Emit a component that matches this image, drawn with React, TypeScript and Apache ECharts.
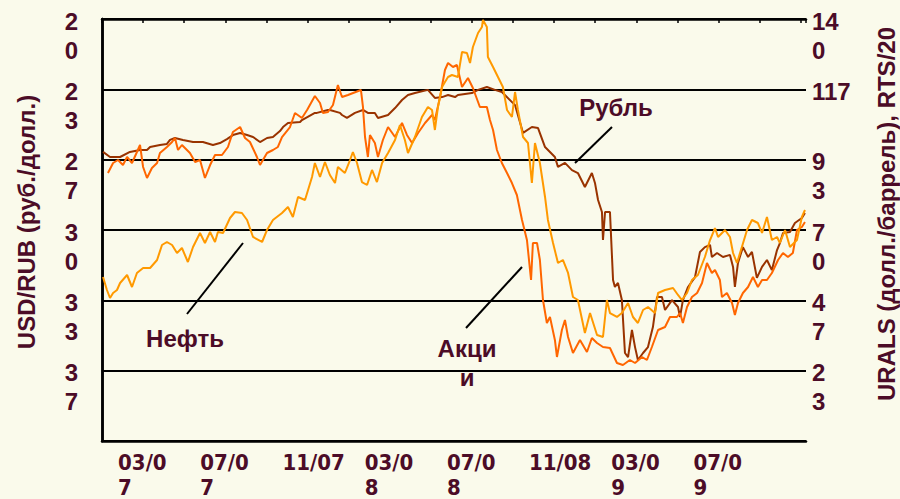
import React, { useEffect, useRef } from "react";
import * as echarts from "echarts";

// x values are months since 1 Jan 2007
const rubleX = [0.05,0.39,0.88,1.36,1.85,2.19,2.34,2.82,3.16,3.31,3.55,3.94,4.43,4.91,5.40,5.74,6.08,6.37,6.72,7.06,7.35,7.69,8.03,8.32,8.66,8.81,9.05,9.64,9.73,10.36,10.46,10.99,11.09,11.58,11.68,11.92,12.31,12.70,12.94,13.28,13.43,13.92,14.26,14.60,14.89,15.23,15.86,16.20,16.55,16.84,17.18,17.32,18.00,18.30,18.73,19.12,19.46,20.10,20.49,20.92,21.22,21.56,22.04,22.19,22.53,22.87,23.16,23.50,23.84,23.99,24.14,24.33,24.38,24.48,24.72,24.87,24.96,25.11,25.30,25.45,25.60,25.79,25.94,26.08,26.33,26.57,26.81,27.01,27.25,27.40,27.74,28.03,28.13,28.27,28.52,28.86,29.10,29.34,29.59,29.68,29.93,30.22,30.56,30.71,30.80,30.95,31.19,31.44,31.63,31.87,32.12,32.36,32.60,32.85,32.99,33.14,33.48,33.72,34.06,34.21];
const rubleY = [26.30,26.54,26.54,26.30,26.21,26.21,26.07,25.97,25.92,25.73,25.64,25.73,25.83,25.83,25.97,25.88,25.69,25.50,25.40,25.50,25.59,25.83,25.64,25.59,25.31,25.12,24.93,24.88,24.79,24.45,24.45,24.31,24.31,24.45,24.55,24.69,24.45,24.31,24.45,24.45,24.69,24.55,24.22,23.84,23.60,23.51,23.36,23.74,23.70,23.60,23.70,23.60,23.51,23.36,23.22,23.36,23.46,24.08,25.40,25.12,25.17,26.07,26.54,27.01,26.82,27.16,27.30,27.96,27.30,27.77,28.58,29.15,30.47,29.15,29.15,32.37,32.70,32.51,33.32,35.83,36.02,34.74,35.55,36.16,35.83,35.55,34.60,33.18,33.18,33.79,33.32,33.65,34.12,33.32,32.70,32.23,31.04,30.81,30.71,31.28,31.09,31.28,31.18,31.75,32.70,31.56,30.81,31.28,31.04,32.27,31.75,31.42,31.90,30.95,30.62,30.14,30.09,29.67,29.43,29.19];

const stocksX = [0.29,0.54,0.78,1.02,1.22,1.46,1.70,1.85,2.00,2.19,2.43,2.68,2.82,3.16,3.41,3.55,3.70,3.89,4.28,4.53,4.77,5.01,5.26,5.50,5.84,6.13,6.37,6.72,6.96,7.20,7.54,7.69,8.03,8.32,8.56,8.76,9.15,9.39,9.73,9.98,10.36,10.61,10.75,11.00,11.24,11.48,11.68,11.97,12.60,12.70,12.80,12.94,13.04,13.28,13.43,13.67,13.92,14.26,14.60,14.84,15.09,15.38,15.72,16.06,16.20,16.45,16.69,16.84,17.08,17.27,17.52,17.81,18.05,18.39,18.73,18.88,19.03,19.22,19.46,19.71,19.95,20.19,20.44,20.68,20.88,20.97,21.17,21.31,21.46,21.65,21.80,22.04,22.14,22.38,22.53,22.68,22.92,23.26,23.60,23.84,24.09,24.38,24.72,25.06,25.35,25.69,25.94,26.28,26.52,26.76,27.06,27.40,27.64,27.98,28.13,28.27,28.47,28.71,28.96,29.20,29.44,29.68,29.83,30.07,30.17,30.41,30.66,30.80,30.95,31.19,31.44,31.68,31.92,32.12,32.36,32.60,32.90,33.14,33.38,33.62,33.82,34.06,34.21];
const stocksY = [88.91,92.23,93.22,91.56,94.22,92.23,95.88,98.20,90.90,87.25,90.57,92.23,95.55,97.54,99.19,100.52,96.54,98.20,95.55,92.56,93.22,87.25,91.56,94.88,94.88,97.54,102.51,104.17,100.52,99.19,94.22,91.56,95.55,96.54,97.54,100.85,104.17,108.82,107.16,109.81,114.46,112.13,108.82,109.15,111.47,118.10,114.12,114.79,116.45,110.81,100.85,94.22,101.52,98.86,94.22,99.86,104.17,100.85,105.50,101.52,98.86,102.18,105.50,108.15,106.49,114.12,123.08,125.40,124.08,124.74,117.44,120.43,117.11,110.81,110.81,106.49,103.18,96.54,92.23,88.91,85.59,81.61,73.32,66.68,53.41,65.69,65.69,60.05,46.78,39.15,41.14,33.51,27.87,36.82,40.14,34.50,29.19,33.51,29.53,34.17,32.51,31.18,30.85,25.88,25.21,26.87,25.88,27.87,26.87,31.18,36.82,37.82,41.14,41.14,42.46,39.15,44.46,47.77,49.10,52.42,59.05,55.74,56.73,53.41,47.77,49.10,45.78,41.80,45.78,49.10,51.09,54.41,51.09,53.41,53.41,55.74,60.05,62.37,61.04,62.37,70.00,71.00,72.65];

const oilX = [0.05,0.24,0.39,0.54,0.73,0.88,1.22,1.46,1.70,2.00,2.34,2.68,2.92,3.16,3.41,3.65,3.89,4.18,4.43,4.77,5.01,5.26,5.50,5.64,5.89,6.23,6.47,6.81,7.06,7.35,7.79,8.03,8.32,8.76,9.05,9.29,9.54,9.88,10.22,10.36,10.61,10.85,11.09,11.34,11.48,11.82,12.07,12.21,12.41,12.65,12.90,13.14,13.38,13.63,13.92,14.26,14.50,14.74,14.89,15.23,15.57,15.86,16.06,16.20,16.35,16.55,16.69,16.84,17.03,17.32,17.52,17.76,17.91,18.05,18.30,18.49,18.54,18.73,18.78,19.03,19.27,19.51,19.71,19.95,20.10,20.24,20.49,20.73,20.92,21.07,21.31,21.56,21.70,21.95,22.19,22.43,22.68,22.92,23.16,23.50,23.75,24.09,24.38,24.57,24.72,25.06,25.30,25.60,25.84,26.08,26.33,26.57,26.91,27.06,27.40,27.79,28.03,28.22,28.47,28.71,29.00,29.34,29.59,29.83,29.98,30.32,30.56,30.71,30.90,31.14,31.39,31.63,31.92,32.12,32.36,32.60,32.85,32.99,33.24,33.48,33.82,34.06,34.21];
const oilY = [54.41,50.09,47.44,49.10,50.09,52.42,55.07,51.09,55.74,57.39,57.39,60.05,65.02,66.02,65.02,62.37,64.03,59.38,64.36,69.01,65.69,69.34,66.02,69.34,69.01,73.98,75.97,75.64,73.32,67.68,66.02,70.00,73.32,75.64,77.63,74.31,80.95,79.95,87.58,92.23,87.58,92.56,88.25,85.59,90.90,88.91,93.22,95.88,92.23,85.92,84.93,89.91,85.92,92.23,95.55,99.86,104.83,99.86,95.55,100.85,107.49,110.81,109.81,103.18,110.81,117.44,119.10,120.76,121.42,120.76,129.05,128.72,125.40,130.71,135.36,137.35,139.67,137.35,127.39,124.08,120.76,117.44,109.81,107.49,115.78,109.81,100.85,98.86,85.59,98.86,92.23,80.95,73.32,65.69,59.05,60.05,55.74,47.77,46.78,35.83,42.46,35.17,34.50,46.78,42.46,41.14,42.46,45.78,41.14,39.15,43.46,44.46,42.46,49.10,50.09,50.76,48.44,46.78,49.10,53.41,55.07,61.04,66.68,70.66,67.68,70.00,67.68,62.37,59.05,64.36,70.00,73.32,72.32,69.01,74.31,66.68,67.68,65.69,70.00,64.36,66.68,74.31,76.64];

const monthTicks = [2, 6, 10, 14, 18, 22, 26, 30];
const monthTickLabels = ["03/0\n7", "07/0\n7", "11/07", "03/0\n8", "07/0\n8", "11/08", "03/0\n9", "07/0\n9"];
const leftTickLabels = ["2\n0", "2\n3", "2\n7", "3\n0", "3\n3", "3\n7", ""];
const rightTickLabels = ["", "2\n3", "4\n7", "7\n0", "9\n3", "117", "14\n0"];

const seriesNames = ["Рубль", "Акции", "Нефть"];
const leftAxisTitle = "USD/RUB (руб./долл.)";
const rightAxisTitle = "URALS (долл./баррель), RTS/20";

const TEXT = "#4C0C27";
const FONT = "'Liberation Sans', Arial, sans-serif";
const NARROW = "'Liberation Sans Narrow', 'Arial Narrow', 'DejaVu Sans Condensed', sans-serif";
const X_MAX = 34.26;

function yRich(s: string) {
  if (!s) return "";
  return s
    .split("\n")
    .map((l, i) => `{${i === 0 ? "f" : "s"}|${l}}`)
    .join("\n");
}

function xRich(s: string) {
  return s
    .split("\n")
    .map((l, i) => `{${i === 0 ? "x1" : "x2"}|${l}}`)
    .join("\n");
}

const yRichStyles = {
  f: { fontSize: 24, fontWeight: "bold", fontFamily: FONT, color: TEXT, lineHeight: 4 },
  s: { fontSize: 24, fontWeight: "bold", fontFamily: FONT, color: TEXT, lineHeight: 54 },
};

const xTokenBase = {
  width: 50,
  align: "left",
  fontSize: 22,
  fontWeight: "bold",
  fontFamily: NARROW,
  color: TEXT,
};

export default function App() {
  const ref = useRef<HTMLDivElement>(null);

  useEffect(() => {
    if (!ref.current) return;
    const chart = echarts.init(ref.current, undefined, { renderer: "svg" });
    const zip = (xs: number[], ys: number[]) => xs.map((x, i) => [x, ys[i]]);

    const centeredText = (text: string, x: number, y: number, rotation = 0) => ({
      type: "text",
      x,
      y,
      rotation,
      style: {
        text,
        font: `bold 24px ${FONT}`,
        fill: TEXT,
        align: "center",
        verticalAlign: "middle",
        textAlign: "center",
        textVerticalAlign: "middle",
      },
    });

    const option: any = {
      animation: false,
      backgroundColor: "#FAFAEB",
      grid: { left: 102, right: 94, top: 19, bottom: 58, containLabel: false, outerBoundsMode: "none" },
      xAxis: [
        {
          type: "value",
          position: "bottom",
          min: 0,
          max: X_MAX,
          interval: 2,
          axisLine: { show: true, lineStyle: { color: "#000", width: 2.5 } },
          axisTick: { show: false },
          splitLine: { show: false },
          axisLabel: {
            show: true,
            margin: 3,
            showMaxLabel: false,
            showMinLabel: false,
            formatter: (v: number) => {
              const i = monthTicks.findIndex((t) => Math.abs(t - v) < 0.01);
              return i >= 0 ? xRich(monthTickLabels[i]) : "";
            },
            rich: {
              x1: { ...xTokenBase, lineHeight: 36 },
              x2: { ...xTokenBase, lineHeight: 14 },
            },
          },
        },
        {
          type: "value",
          position: "top",
          min: 0,
          max: X_MAX,
          interval: 2,
          axisLine: { show: true, lineStyle: { color: "#000", width: 2.5 } },
          axisTick: { show: true, inside: true, length: 4, lineStyle: { color: "#000", width: 1.5 } },
          axisLabel: { show: false },
          splitLine: { show: false },
        },
      ],
      yAxis: [
        {
          type: "value",
          position: "left",
          inverse: true,
          min: 20,
          max: 40,
          interval: 20 / 6,
          axisLine: { show: true, lineStyle: { color: "#000", width: 2.5 } },
          axisTick: { show: false },
          splitLine: { show: true, lineStyle: { color: "#000", width: 2 } },
          axisLabel: {
            margin: 24,
            align: "right",
            verticalAlign: "top",
            formatter: (v: number) => {
              const i = Math.round((v - 20) / (20 / 6));
              return yRich(leftTickLabels[i] || "");
            },
            rich: yRichStyles,
          },
        },
        {
          type: "value",
          position: "right",
          min: 0,
          max: 140,
          interval: 140 / 6,
          axisLine: { show: true, lineStyle: { color: "#000", width: 2.5 } },
          axisTick: { show: true, length: 3, lineStyle: { color: "#000", width: 2 } },
          splitLine: { show: false },
          axisLabel: {
            margin: 6,
            align: "left",
            verticalAlign: "top",
            formatter: (v: number) => {
              const i = Math.round(v / (140 / 6));
              return yRich(rightTickLabels[i] || "");
            },
            rich: yRichStyles,
          },
        },
      ],
      series: [
        {
          name: seriesNames[0],
          type: "line",
          xAxisIndex: 0,
          yAxisIndex: 0,
          data: zip(rubleX, rubleY),
          showSymbol: false,
          symbol: "none",
          lineStyle: { color: "#993300", width: 2 },
          itemStyle: { color: "#993300" },
          emphasis: { disabled: true },
          z: 3,
        },
        {
          name: seriesNames[1],
          type: "line",
          xAxisIndex: 0,
          yAxisIndex: 1,
          data: zip(stocksX, stocksY),
          showSymbol: false,
          symbol: "none",
          lineStyle: { color: "#FF6600", width: 2 },
          itemStyle: { color: "#FF6600" },
          emphasis: { disabled: true },
          z: 4,
        },
        {
          name: seriesNames[2],
          type: "line",
          xAxisIndex: 0,
          yAxisIndex: 1,
          data: zip(oilX, oilY),
          showSymbol: false,
          symbol: "none",
          lineStyle: { color: "#FF9900", width: 2 },
          itemStyle: { color: "#FF9900" },
          emphasis: { disabled: true },
          z: 5,
        },
      ],
      graphic: [
        centeredText(leftAxisTitle, 26, 222, Math.PI / 2),
        centeredText(rightAxisTitle, 886, 214, Math.PI / 2),
        centeredText(seriesNames[0], 616, 107),
        { type: "line", shape: { x1: 612, y1: 127, x2: 575, y2: 163 }, style: { stroke: "#000", lineWidth: 2 } },
        centeredText(seriesNames[2], 185, 338),
        { type: "line", shape: { x1: 243, y1: 243, x2: 187, y2: 314 }, style: { stroke: "#000", lineWidth: 2 } },
        {
          type: "text",
          x: 467,
          y: 334,
          style: {
            text: "Акци\nи",
            font: `bold 24px ${FONT}`,
            fill: TEXT,
            lineHeight: 29,
            align: "center",
            verticalAlign: "top",
            textAlign: "center",
            textVerticalAlign: "top",
          },
        },
        { type: "line", shape: { x1: 522, y1: 267, x2: 466, y2: 328 }, style: { stroke: "#000", lineWidth: 2 } },
      ],
    };

    chart.setOption(option);
    return () => {
      chart.dispose();
    };
  }, []);

  return (
    <div
      ref={ref}
      style={{ position: "absolute", left: 0, top: 0, width: 900, height: 499 }}
    />
  );
}
